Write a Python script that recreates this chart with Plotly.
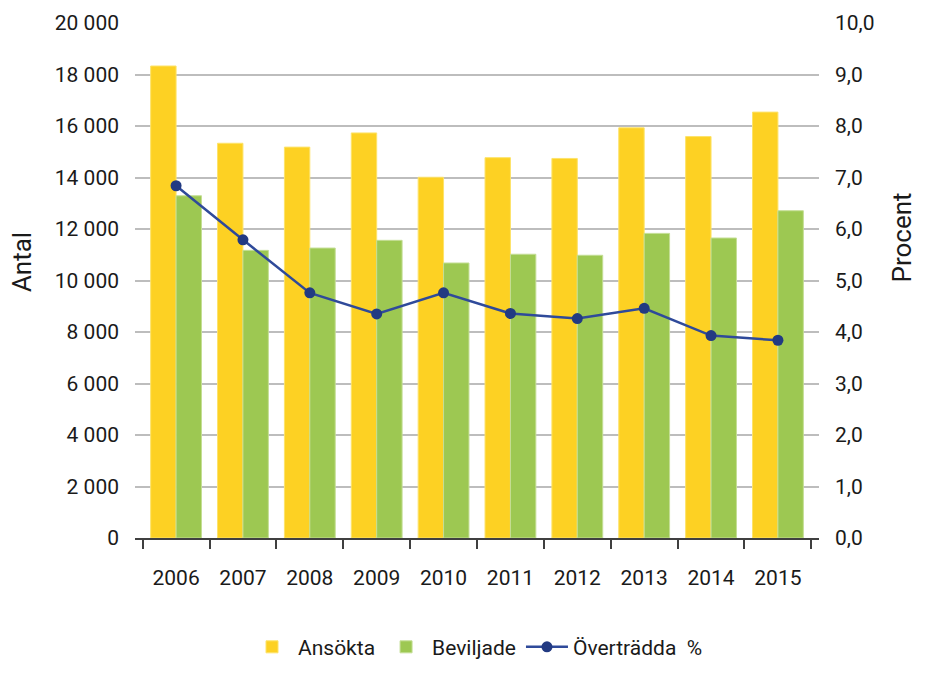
import plotly.graph_objects as go

# =========================================================
# Data
# =========================================================

years = ["2006", "2007", "2008", "2009", "2010",
         "2011", "2012", "2013", "2014", "2015"]

ansokta = [18330, 15330, 15180, 15730, 14010,
           14770, 14740, 15930, 15590, 16540]

beviljade = [13290, 11170, 11260, 11560, 10680,
             11020, 10980, 11830, 11650, 12710]

overtradda = [6.84, 5.79, 4.76, 4.35, 4.76,
              4.36, 4.26, 4.46, 3.93, 3.84]

FONT = "Roboto"
TEXT = "#1A1A1A"

# =========================================================
# Figure  (page body has an 8px margin, so size is 912x659)
# =========================================================

fig = go.Figure()

fig.add_trace(go.Bar(
    x=years, y=ansokta, name="Ansökta",
    marker=dict(color="#FDD123", line=dict(color="#FDE36A", width=1))
))

fig.add_trace(go.Bar(
    x=years, y=beviljade, name="Beviljade",
    marker=dict(color="#9DC852", line=dict(color="#C4DE95", width=1))
))

fig.add_trace(go.Scatter(
    x=years, y=overtradda, name="Överträdda\u00a0\u00a0%",
    yaxis="y2", mode="lines+markers",
    line=dict(color="#2F4A9A", width=2.5),
    marker=dict(color="#223A82", size=11)
))

fig.update_layout(
    width=912,
    height=659,
    paper_bgcolor="white",
    plot_bgcolor="white",
    separators=", ",
    font=dict(family=FONT, size=21, color=TEXT),
    margin=dict(l=127, r=101, t=15, b=129, autoexpand=False),
    barmode="group",
    bargap=0.24,
    bargroupgap=0,
    showlegend=True,
    legend=dict(
        orientation="h",
        x=0.5, xanchor="center",
        y=-0.212, yanchor="middle",
        font=dict(size=21),
        traceorder="normal",
        itemwidth=42
    ),
    xaxis=dict(
        automargin=False,
        showgrid=False,
        showline=True,
        linecolor="#404040",
        linewidth=1.5,
        ticks="outside",
        tickson="boundaries",
        ticklen=9,
        tickcolor="#404040",
        tickwidth=1.5,
        ticklabelstandoff=20,
        tickfont=dict(size=21)
    ),
    yaxis=dict(
        automargin=False,
        range=[0, 20000],
        dtick=2000,
        tickformat=",d",
        showgrid=True,
        gridcolor="#BDBDBD",
        gridwidth=1.5,
        zeroline=False,
        showline=False,
        ticks="",
        ticklabelstandoff=15
    ),
    yaxis2=dict(
        automargin=False,
        range=[0, 10],
        dtick=1,
        tickformat=".1f",
        overlaying="y",
        side="right",
        showgrid=False,
        zeroline=False,
        showline=False,
        ticks="",
        ticklabelstandoff=15
    ),
    annotations=[
        dict(text="Antal", textangle=-90, showarrow=False,
             xref="paper", yref="paper", x=-0.165, y=0.536,
             xanchor="center", yanchor="middle", font=dict(size=26)),
        dict(text="Procent", textangle=-90, showarrow=False,
             xref="paper", yref="paper", x=1.121, y=0.583,
             xanchor="center", yanchor="middle", font=dict(size=26))
    ]
)

fig.write_html("out.html")
